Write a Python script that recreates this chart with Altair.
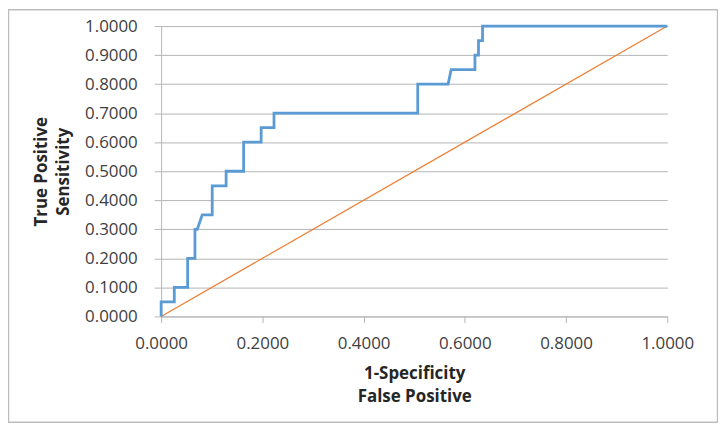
import altair as alt
import pandas as pd

# ROC curve
fpr = [0.0, 0.0, 0.026, 0.026, 0.0524, 0.0524, 0.0668, 0.0668, 0.0714, 0.0812,
       0.1009, 0.1009, 0.1284, 0.1284, 0.163, 0.163, 0.1976, 0.1976, 0.223, 0.223,
       0.507, 0.507, 0.567, 0.573, 0.620, 0.620, 0.627, 0.627, 0.635, 0.635, 1.0]
tpr = [0.0, 0.05, 0.05, 0.10, 0.10, 0.20, 0.20, 0.30, 0.30, 0.35,
       0.35, 0.45, 0.45, 0.50, 0.50, 0.60, 0.60, 0.65, 0.65, 0.70,
       0.70, 0.80, 0.80, 0.85, 0.85, 0.90, 0.90, 0.95, 0.95, 1.00, 1.00]
diag_x = [0.0, 1.0]
diag_y = [0.0, 1.0]
x_ticks = [0.0, 0.2, 0.4, 0.6, 0.8, 1.0]
y_ticks = [0.0, 0.1, 0.2, 0.3, 0.4, 0.5, 0.6, 0.7, 0.8, 0.9, 1.0]

W, H = 509, 292
FONT = "Open Sans"
GRID = "#b4b4b4"

roc = pd.DataFrame({"fpr": fpr, "tpr": tpr, "i": range(len(fpr))})
diag = pd.DataFrame({"fpr": diag_x, "tpr": diag_y, "i": range(len(diag_x))})

xscale = alt.Scale(domain=[0, 1], nice=False, zero=False)
yscale = alt.Scale(domain=[0, 1], nice=False, zero=False)

xaxis = alt.Axis(
    values=x_ticks, format=".4f", grid=False,
    title=["1-Specificity", "False Positive"],
    labelFlush=False, labelOverlap=False, labelBound=False,
    tickSize=6, labelPadding=13.6, tickColor=GRID, domainColor=GRID,
    labelFont=FONT, labelFontSize=17, labelColor="#404040",
    titleFont=FONT, titleFontSize=17, titleFontWeight="bold", titleColor="#262626",
    titleLineHeight=23, titleBaseline="top", titleY=49.6, titleX=W / 2,
)
yaxis = alt.Axis(
    values=y_ticks, format=".4f", grid=True, gridColor=GRID,
    title=["True Positive", "Sensitivity"],
    labelFlush=False, labelOverlap=False, labelBound=False,
    tickSize=7, labelPadding=17, tickColor=GRID, domainColor=GRID,
    labelFont=FONT, labelFontSize=17, labelColor="#404040",
    titleFont=FONT, titleFontSize=17, titleFontWeight="bold", titleColor="#262626",
    titleLineHeight=23, titleBaseline="top", titleAngle=270,
    titleX=-128.7, titleY=H / 2,
)

border = alt.Chart(pd.DataFrame({"a": [0]})).mark_rect(
    fill=None, stroke="#bdbdbd", strokeWidth=1.5
).encode(
    x=alt.value(-153.5), x2=alt.value(559.5),
    y=alt.value(-16.5), y2=alt.value(398.5),
)

diag_line = alt.Chart(diag).mark_line(color="#ED7D31", strokeWidth=1.2).encode(
    x=alt.X("fpr:Q", scale=xscale, axis=xaxis),
    y=alt.Y("tpr:Q", scale=yscale, axis=yaxis),
    order="i:Q",
)

roc_line = alt.Chart(roc).mark_line(color="#5B9BD5", strokeWidth=2.8).encode(
    x=alt.X("fpr:Q", scale=xscale, axis=xaxis),
    y=alt.Y("tpr:Q", scale=yscale, axis=yaxis),
    order="i:Q",
)

chart = alt.layer(border, diag_line, roc_line).properties(
    width=W, height=H,
    autosize=alt.AutoSizeParams(type="none"),
    padding={"left": 154, "top": 17, "right": 51, "bottom": 107},
    background="white",
).configure_view(stroke=None)

chart.save("out.html", embed_options={"renderer": "svg", "actions": False})
